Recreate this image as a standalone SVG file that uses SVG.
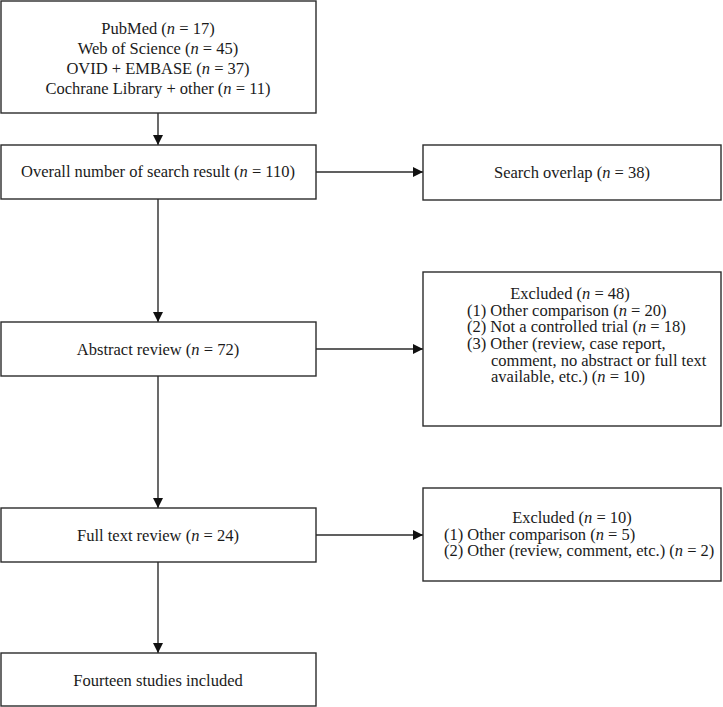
<svg xmlns="http://www.w3.org/2000/svg" width="723" height="707" viewBox="0 0 723 707">
<style>
.box{fill:#fff;stroke:#2b2b2b;stroke-width:1.4}
.t{font-family:"Liberation Serif","Times New Roman",serif;font-size:16.5px;fill:#1a1a1a}
.c{text-anchor:middle}
.ln{stroke:#2b2b2b;stroke-width:1.4;fill:none}
</style>
<defs>
<marker id="ah" viewBox="0 0 10 10" refX="10" refY="5" markerWidth="10" markerHeight="10" markerUnits="userSpaceOnUse" orient="auto">
<path d="M0,0 L10,5 L0,10 Z" fill="#111"/>
</marker>
</defs>
<rect width="723" height="707" fill="#fff"/>
<g id="connectors">
<line class="ln" x1="158" y1="113" x2="158" y2="145" marker-end="url(#ah)"/>
<line class="ln" x1="158" y1="199" x2="158" y2="322" marker-end="url(#ah)"/>
<line class="ln" x1="158" y1="376" x2="158" y2="508" marker-end="url(#ah)"/>
<line class="ln" x1="158" y1="562" x2="158" y2="653" marker-end="url(#ah)"/>
<line class="ln" x1="316" y1="172" x2="423" y2="172" marker-end="url(#ah)"/>
<line class="ln" x1="316" y1="349" x2="423" y2="349" marker-end="url(#ah)"/>
<line class="ln" x1="316" y1="535" x2="423" y2="535" marker-end="url(#ah)"/>
</g>
<g id="sources">
<rect class="box" x="1" y="1" width="315" height="112"/>
<text class="t c" x="158" y="34">PubMed (<tspan font-style="italic">n</tspan> = 17)</text>
<text class="t c" x="158" y="54">Web of Science (<tspan font-style="italic">n</tspan> = 45)</text>
<text class="t c" x="158" y="74">OVID + EMBASE (<tspan font-style="italic">n</tspan> = 37)</text>
<text class="t c" x="158" y="94">Cochrane Library + other (<tspan font-style="italic">n</tspan> = 11)</text>
</g>
<g id="overall">
<rect class="box" x="1" y="145" width="315" height="54"/>
<text class="t c" x="158" y="177">Overall number of search result (<tspan font-style="italic">n</tspan> = 110)</text>
</g>
<g id="overlap">
<rect class="box" x="423" y="145" width="298" height="55"/>
<text class="t c" x="572" y="178">Search overlap (<tspan font-style="italic">n</tspan> = 38)</text>
</g>
<g id="abstract">
<rect class="box" x="1" y="322" width="315" height="54"/>
<text class="t c" x="158" y="355">Abstract review (<tspan font-style="italic">n</tspan> = 72)</text>
</g>
<g id="excluded1">
<rect class="box" x="423" y="272" width="298" height="154"/>
<text class="t c" x="570" y="299">Excluded (<tspan font-style="italic">n</tspan> = 48)</text>
<text class="t" x="467" y="316">(1) Other comparison (<tspan font-style="italic">n</tspan> = 20)</text>
<text class="t" x="467" y="332">(2) Not a controlled trial (<tspan font-style="italic">n</tspan> = 18)</text>
<text class="t" x="467" y="349">(3) Other (review, case report,</text>
<text class="t" x="491" y="366">comment, no abstract or full text</text>
<text class="t" x="491" y="382">available, etc.) (<tspan font-style="italic">n</tspan> = 10)</text>
</g>
<g id="fulltext">
<rect class="box" x="1" y="508" width="315" height="54"/>
<text class="t c" x="158" y="541">Full text review (<tspan font-style="italic">n</tspan> = 24)</text>
</g>
<g id="excluded2">
<rect class="box" x="423" y="488" width="298" height="93"/>
<text class="t c" x="572" y="523">Excluded (<tspan font-style="italic">n</tspan> = 10)</text>
<text class="t" x="444" y="540">(1) Other comparison (<tspan font-style="italic">n</tspan> = 5)</text>
<text class="t" x="444" y="556">(2) Other (review, comment, etc.) (<tspan font-style="italic">n</tspan> = 2)</text>
</g>
<g id="included">
<rect class="box" x="1" y="653" width="315" height="53"/>
<text class="t c" x="158" y="686">Fourteen studies included</text>
</g>
</svg>
